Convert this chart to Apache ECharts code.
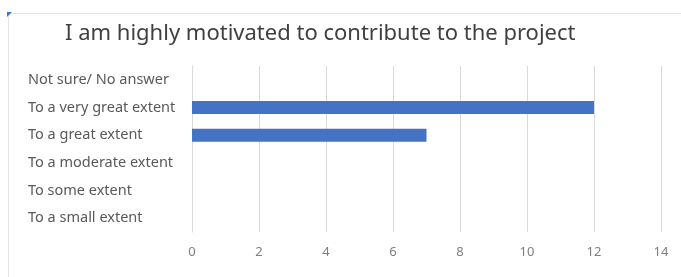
<!DOCTYPE html>
<html>
<head>
<meta charset="utf-8">
<script src="https://cdn.jsdelivr.net/npm/echarts@6/dist/echarts.min.js"></script>
<style>
  html, body { margin: 0; padding: 0; background: #fff; }
  #chart { width: 681px; height: 277px; }
</style>
</head>
<body>
<div id="chart"></div>
<script>
// categories bottom-to-top (echarts category y axis starts at the bottom)
var categories = ['To a small extent', 'To some extent', 'To a moderate extent',
                  'To a great extent', 'To a very great extent', 'Not sure/ No answer'];
var counts = [0, 0, 0, 7, 12, 0];
var xTicks = [0, 2, 4, 6, 8, 10, 12, 14];

var myChart = echarts.init(document.getElementById('chart'));

var option = {
	animation: false,
	textStyle: { fontFamily: 'Noto Sans' },
	title: {
		text: 'I am highly motivated to contribute to the project',
		left: 60,
		top: 18,
		textStyle: { color: '#404040', fontSize: 22, fontWeight: 'normal', fontFamily: 'Noto Sans' }
	},
	graphic: [{
		type: 'rect',
		shape: { x: 8.5, y: 13.5, width: 700, height: 300 },
		style: { fill: 'none', stroke: '#e6e6e6', lineWidth: 1 }
	}, {
		type: 'polygon',
		shape: { points: [[7, 12], [12, 12], [7, 17]] },
		style: { fill: '#4472C4' }
	}],
	grid: { left: 192, right: 20, top: 66, bottom: 45 },
	xAxis: {
		type: 'value',
		min: 0,
		max: xTicks[xTicks.length - 1],
		interval: 2,
		axisLine: { show: false },
		axisTick: { show: false },
		axisLabel: { color: '#7f7f7f', fontSize: 13, margin: 14 },
		splitLine: { lineStyle: { color: '#d9d9d9', width: 1 } }
	},
	yAxis: {
		type: 'category',
		data: categories,
		axisLine: { show: true, lineStyle: { color: '#d9d9d9' } },
		axisTick: { show: false },
		axisLabel: { color: '#595959', fontSize: 14.5, align: 'left', margin: 164 }
	},
	series: [{
		type: 'bar',
		data: counts,
		barWidth: 13,
		itemStyle: { color: '#4472C4' }
	}]
};

myChart.setOption(option);
</script>
</body>
</html>
